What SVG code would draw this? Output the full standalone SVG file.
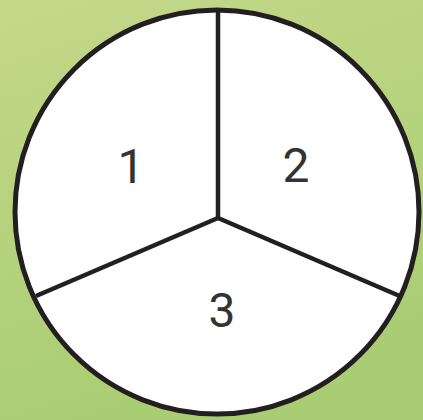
<svg xmlns="http://www.w3.org/2000/svg" width="423" height="420" viewBox="0 0 423 420">
<defs>
<linearGradient id="bg" x1="0" y1="0" x2="0.3" y2="1">
<stop offset="0" stop-color="#c4d88a"/>
<stop offset="1" stop-color="#a9cd72"/>
</linearGradient>
</defs>
<style>
.lbl{font-family:Roboto,"Liberation Sans",sans-serif;font-size:48px;fill:#333;text-anchor:middle}
.ln{stroke:#231f20;stroke-width:4.5;fill:none;stroke-linecap:butt}
</style>
<rect width="423" height="420" fill="url(#bg)"/>
<g id="circle"><circle cx="217" cy="212" r="202" fill="#fff" stroke="#231f20" stroke-width="5"/></g>
<g id="connectors">
<line class="ln" x1="218" y1="10" x2="218" y2="218"/>
<line class="ln" x1="218" y1="218" x2="36" y2="296"/>
<line class="ln" x1="218" y1="218" x2="402" y2="297"/>
</g>
<g id="sector1"><text class="lbl" x="131" y="183">1</text></g>
<g id="sector2"><text class="lbl" x="296" y="182">2</text></g>
<g id="sector3"><text class="lbl" x="222" y="327">3</text></g>
</svg>
